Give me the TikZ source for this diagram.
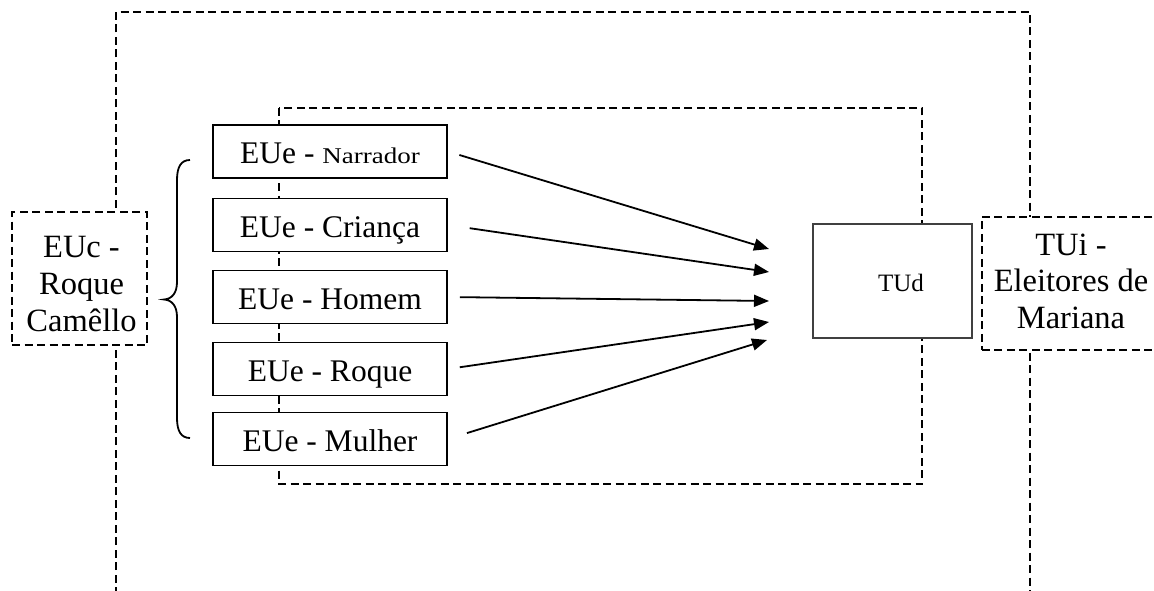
\documentclass[tikz,border=0pt]{standalone}
\usepackage{graphicx}
\usepackage{fontspec}
\setmainfont{Liberation Serif}
\usetikzlibrary{arrows.meta}
\begin{document}
\begin{tikzpicture}[x=1pt,y=-1pt,
  frame/.style={draw, line width=1.8pt, dash pattern=on 8pt off 4.5pt},
  dbox/.style={draw, fill=white, line width=1.8pt, dash pattern=on 8pt off 4.5pt, inner sep=0pt},
  eubox/.style={draw, fill=white, line width=1.8pt, minimum width=234pt, minimum height=53pt,
    inner sep=0pt, text height=25pt, text depth=0pt, font=\fontsize{31.5}{36}\selectfont},
  bigtext/.style={align=center, inner sep=0pt, font=\fontsize{32.5}{37}\selectfont},
  arr/.style={line width=1.8pt, -{Triangle[length=15pt,width=12pt]}},
  bracestyle/.style={line width=1.8pt}
]
\useasboundingbox (0,0) rectangle (1154,591);
\clip (0,0) rectangle (1154,591);
\fill[white] (0,0) rectangle (1154,591);

% frames
\draw[frame] (116,620) -- (116,12) -- (1030,12) -- (1030,620);
\draw[frame] (279,108) rectangle (922,484);

% left box
\node[dbox, minimum width=135pt, minimum height=133pt] (euc) at (79.5,278.5) {};
\node[bigtext] (euct) at (81.5,284) {EUc -\\Roque\\Camêllo};

% right box
\node[dbox, anchor=north west, minimum width=200pt, minimum height=133pt] (tui) at (981,216) {};
\node[bigtext, font=\fontsize{32.5}{36.5}\selectfont] (tuit) at (1071,281.3) {TUi -\\Eleitores de\\Mariana};

% EUe boxes
\node[eubox] (e1) at (330,151.5) {EUe - \scalebox{1.2}[1]{\fontsize{22.5}{22.5}\selectfont Narrador}};
\node[eubox] (e2) at (330,225) {EUe - Criança};
\node[eubox] (e3) at (330,297) {EUe - Homem};
\node[eubox] (e4) at (330,369) {EUe - Roque};
\node[eubox] (e5) at (330,439) {EUe - Mulher};

% TUd
\node[draw=black!75, fill=white, line width=1.3pt, minimum width=159pt, minimum height=114pt, inner sep=0pt] (tud) at (892.5,281) {};
\node[anchor=base, inner sep=0pt, font=\fontsize{25}{25}\selectfont] (tudt) at (901,291.7) {TUd};

% brace
\draw[bracestyle] (190,160) .. controls (181,160) and (177,167) .. (177,180)
  -- (177,282) .. controls (177,293) and (172,299) .. (164,299.5)
  .. controls (172,300) and (177,306) .. (177,317)
  -- (177,418) .. controls (177,431) and (181,438) .. (190,438);

% arrow ends
\coordinate (t1) at (769,249);
\coordinate (t2) at (769,272);
\coordinate (t3) at (769,301);
\coordinate (t4) at (769,322);
\coordinate (t5) at (767,340);

\draw[arr, shorten <=12pt] (e1.east) -- (t1);
\draw[arr, shorten <=22pt] (e2.east) -- (t2);
\draw[arr, shorten <=12pt] (e3.east) -- (t3);
\draw[arr, shorten <=12pt] (e4.east) -- (t4);
\draw[arr, shorten <=20pt] (e5.east) -- (t5);
\end{tikzpicture}
\end{document}
